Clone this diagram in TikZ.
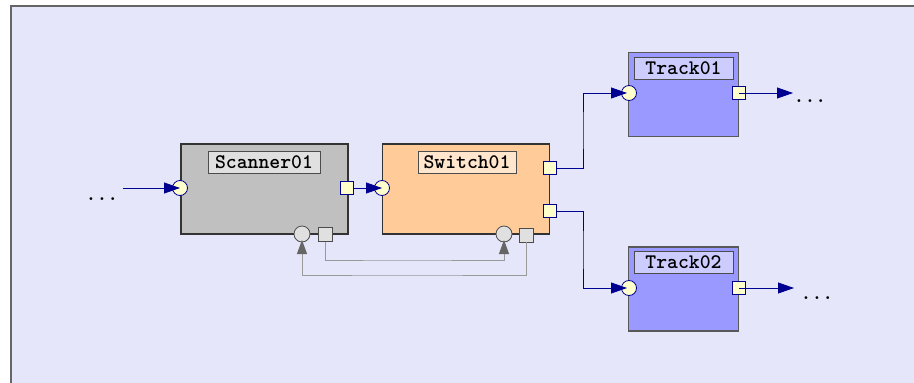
\documentclass[tikz,border=0pt]{standalone}
\usepackage{fontspec}
\newfontfamily\titlefont{lmmonolt10-bold}[Extension=.otf]
\usetikzlibrary{arrows.meta}
\definecolor{bgc}{HTML}{E6E6FA}
\definecolor{scanc}{HTML}{C0C0C0}
\definecolor{scant}{HTML}{E0E0E0}
\definecolor{swc}{HTML}{FFCC99}
\definecolor{swt}{HTML}{FFE6CC}
\definecolor{trc}{HTML}{9999FF}
\definecolor{trt}{HTML}{CCCCFF}
\definecolor{portc}{HTML}{FFFFCC}
\definecolor{navy}{HTML}{000090}
\definecolor{gport}{HTML}{E0E0E0}
\definecolor{gline}{HTML}{999999}
\definecolor{garrow}{HTML}{666666}
\tikzset{
  x=1pt, y=-1pt,
  block/.style={draw=black!80, line width=1.1pt, inner sep=0pt},
  titlebox/.style={draw=black!70, line width=0.9pt, inner sep=0pt, minimum height=22pt,
    font=\titlefont\fontsize{20.7}{22}\selectfont, text=black},
  inport/.style={circle, draw=navy, fill=portc, line width=0.8pt, minimum size=15pt, inner sep=0pt},
  outport/.style={rectangle, draw=navy, fill=portc, line width=0.8pt, minimum size=13pt, inner sep=0pt},
  ginport/.style={circle, draw=black!70, fill=gport, line width=0.8pt, minimum size=16pt, inner sep=0pt},
  goutport/.style={rectangle, draw=black!70, fill=gport, line width=0.8pt, minimum size=14pt, inner sep=0pt},
  flow/.style={draw=navy, line width=0.8pt, -{Triangle[length=16pt,width=11pt]}},
  gflowa/.style={draw=gline, line width=1pt, shorten >=6pt, -{Triangle[length=14pt,width=10pt,color=garrow]}},
  dots/.style={font=\titlefont\fontsize{20.7}{22}\selectfont, inner sep=0pt},
}
\begin{document}
\begin{tikzpicture}
\useasboundingbox (0,0) rectangle (914,383);
\clip (0,0) rectangle (914,383);
\fill[white] (0,0) rectangle (914,383);
\filldraw[fill=bgc, draw=black!60, line width=1.2pt] (11,6) rectangle (940,400);

% blocks
\node[block, fill=scanc, minimum width=167pt, minimum height=90pt] (scanner) at (264.5,189) {};
\node[block, fill=swc, minimum width=167pt, minimum height=90pt] (switch) at (466,189) {};
\node[block, fill=trc, draw=black!65, minimum width=110pt, minimum height=84pt] (track1) at (683.5,94.5) {};
\node[block, fill=trc, draw=black!65, minimum width=110pt, minimum height=84pt] (track2) at (683.5,289) {};

% titles
\node[titlebox, fill=scant, minimum width=112pt] (scantitle) at (264,162) {Scanner01};
\node[titlebox, fill=swt, minimum width=98pt] (swtitle) at (467,162) {Switch01};
\node[titlebox, fill=trt, minimum width=99pt] (t1title) at (683.5,68) {Track01};
\node[titlebox, fill=trt, minimum width=99pt] (t2title) at (683.5,262.5) {Track02};

% connector helper coordinates
\coordinate (lstart) at (123,188);
\coordinate (c1) at (583,130);
\coordinate (c2) at (583,250);
\coordinate (g1) at (400,260);
\coordinate (g2) at (400,275);
\coordinate (t1end) at (793,93);
\coordinate (t2end) at (794,288);

% ports
\node[inport] (sin) at (180,188) {};
\node[outport] (sout) at (347,188) {};
\node[ginport] (sbin) at (302,234) {};
\node[goutport] (sbout) at (325,234.5) {};
\node[inport] (win) at (382,188) {};
\node[outport] (wout1) at (550,168) {};
\node[outport] (wout2) at (550,211) {};
\node[ginport] (wbin) at (504,234) {};
\node[goutport] (wbout) at (526,235) {};
\node[inport] (t1in) at (629,93) {};
\node[outport] (t1out) at (739,93) {};
\node[inport] (t2in) at (629,288) {};
\node[outport] (t2out) at (739,288) {};

% connectors
\draw[flow] (lstart) -- (sin.center);
\draw[flow] (sout.east) -- (win.center);
\draw[flow] (wout1.east) -| (c1) |- ([xshift=-2pt]t1in.center);
\draw[flow] (wout2.east) -| (c2) |- ([xshift=-2pt]t2in.center);
\draw[flow] (t1out.center) -- (t1end);
\draw[flow] (t2out.center) -- (t2end);
\draw[gflowa] (sbout.south) |- (g1) -| (wbin.center);
\draw[gflowa] (wbout.south) |- (g2) -| (sbin.center);

% dots
\node[dots] (d0) at (102,199) {...};
\node[dots] (d1) at (810,101) {...};
\node[dots] (d2) at (817,298) {...};
\end{tikzpicture}
\end{document}
